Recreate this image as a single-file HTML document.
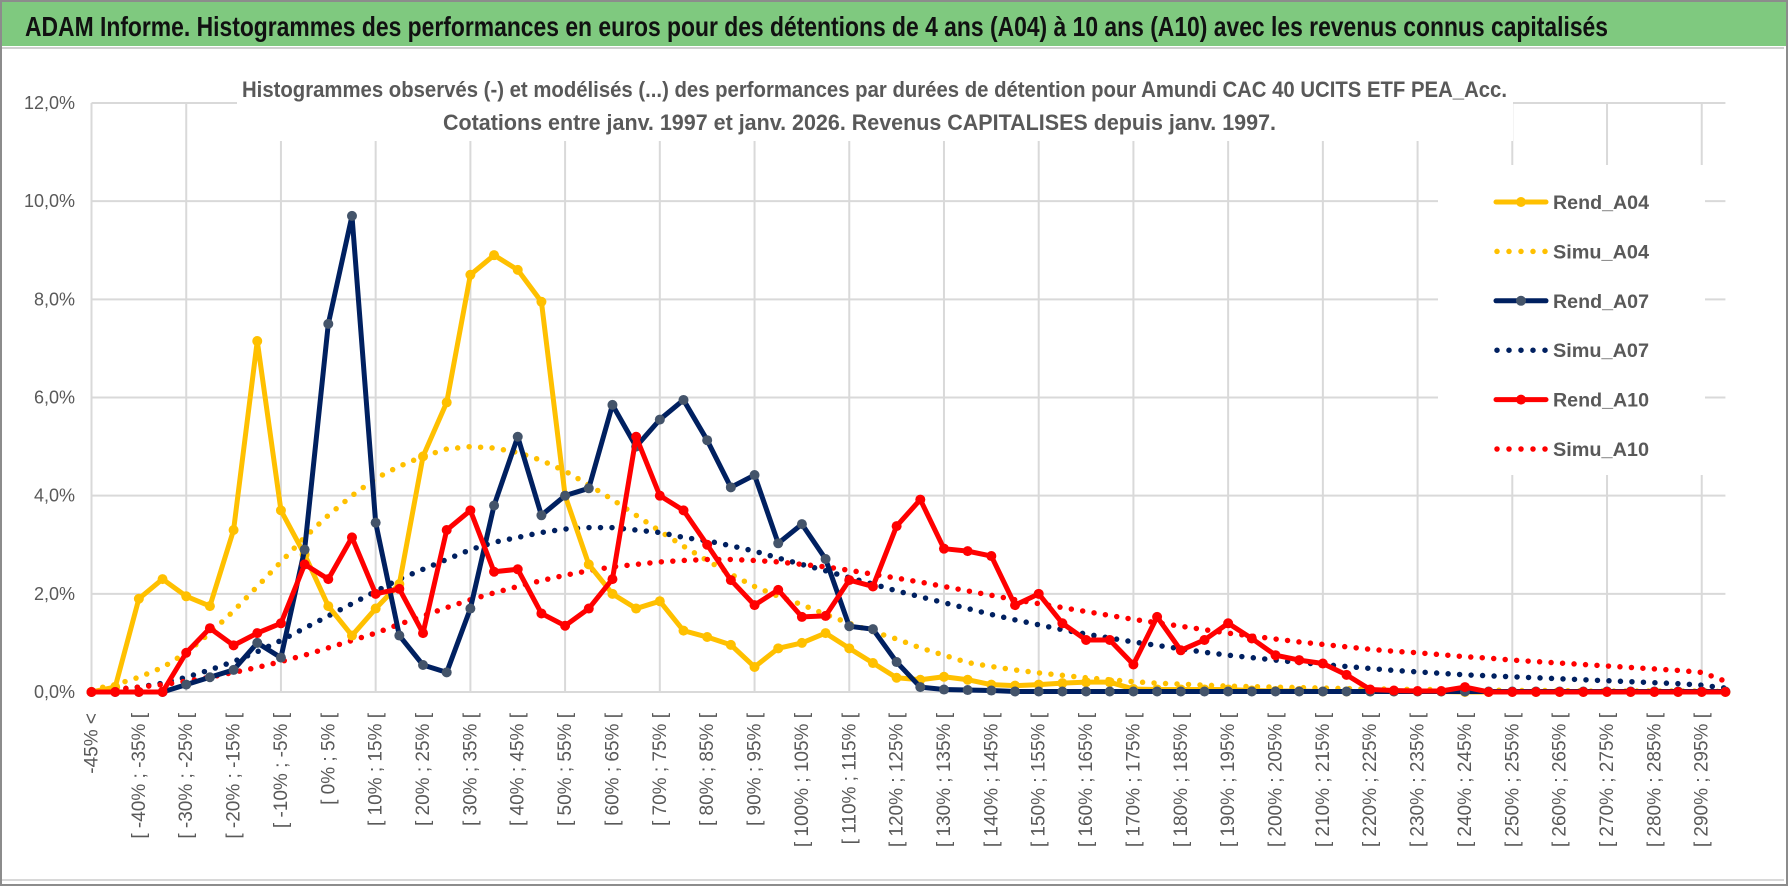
<!DOCTYPE html>
<html><head><meta charset="utf-8"><style>
html,body{margin:0;padding:0;background:#fff}
svg{display:block}
text{font-family:"Liberation Sans",sans-serif}
</style></head><body>
<svg id="chart" width="1790" height="888" viewBox="0 0 1790 888" xmlns="http://www.w3.org/2000/svg">
<rect x="0" y="0" width="1790" height="888" fill="#fff"/>
<rect x="1" y="1" width="1786" height="884" fill="none" stroke="#8c8c8c" stroke-width="2"/>
<rect x="2" y="2" width="1784" height="44" fill="#7fc97f"/>
<line x1="2" y1="48" x2="1784" y2="48" stroke="#d0d0d0" stroke-width="2"/>
<text x="25" y="36" font-size="28" font-weight="bold" fill="#111" textLength="1583" lengthAdjust="spacingAndGlyphs">ADAM Informe. Histogrammes des performances en euros pour des détentions de 4 ans (A04) à 10 ans (A10) avec les revenus connus capitalisés</text>
<line x1="2" y1="880" x2="1784" y2="880" stroke="#d8d8d8" stroke-width="2"/>
<g id="grid"></g>
<rect x="237" y="60" width="1276" height="81" fill="#fff"/>
<rect x="1438" y="165" width="267" height="310" fill="#fff"/>
<text x="242" y="97" font-size="22" font-weight="bold" fill="#595959" textLength="1265" lengthAdjust="spacingAndGlyphs">Histogrammes observés (-) et modélisés (...) des performances par durées de détention pour Amundi CAC 40 UCITS ETF PEA_Acc.</text>
<text x="443" y="130" font-size="22" font-weight="bold" fill="#595959" textLength="833" lengthAdjust="spacingAndGlyphs">Cotations entre janv. 1997 et janv. 2026. Revenus CAPITALISES depuis janv. 1997.</text>
<g id="yaxis"></g>
<g id="xaxis"></g>
<g id="series"></g>
<g id="legend"></g>
</svg>
<script>
const yTicks = [0, 2, 4, 6, 8, 10, 12];
const yTickLabels = ["0,0%", "2,0%", "4,0%", "6,0%", "8,0%", "10,0%", "12,0%"];
const nCats = 70;
const rendA04 = [0,0.1,1.9,2.3,1.95,1.75,3.3,7.15,3.7,2.8,1.75,1.15,1.7,2.2,4.8,5.9,8.5,8.9,8.6,7.95,4.0,2.6,2.0,1.7,1.85,1.25,1.12,0.96,0.51,0.89,1.0,1.2,0.89,0.59,0.29,0.25,0.31,0.25,0.15,0.13,0.15,0.18,0.2,0.2,0.06,0.05,0.05,0.05,0.05,0.03,0.02,0.02,0.01,0.01,0.01,0.01,0.01,0.01,0,0,0,0,0,0,0,0,0,0,0,0];
const simuA04 = [0.05,0.15,0.3,0.5,0.8,1.2,1.65,2.15,2.65,3.15,3.6,4.0,4.35,4.6,4.8,4.95,5.0,4.97,4.88,4.72,4.5,4.22,3.92,3.6,3.28,2.97,2.68,2.4,2.15,1.95,1.78,1.58,1.4,1.23,1.08,0.9,0.75,0.6,0.52,0.45,0.39,0.34,0.29,0.25,0.21,0.18,0.16,0.14,0.12,0.11,0.1,0.09,0.08,0.07,0.06,0.06,0.05,0.05,0.04,0.04,0.03,0.03,0.03,0.02,0.02,0.02,0.02,0.02,0.02,0.01];
const rendA07 = [0,0,0,0,0.15,0.3,0.45,1.0,0.7,2.9,7.5,9.7,3.45,1.15,0.55,0.4,1.7,3.8,5.2,3.6,4.0,4.15,5.85,5.0,5.55,5.95,5.13,4.17,4.42,3.03,3.42,2.71,1.34,1.28,0.61,0.1,0.05,0.04,0.03,0.01,0.01,0.01,0.01,0.01,0.01,0.01,0.01,0.01,0.01,0.01,0.01,0.01,0.01,0.01,0.01,0.01,0.01,0.01,0.01,0.01,0.01,0.01,0.01,0.01,0.01,0.01,0.01,0.01,0.01,0.01];
const simuA07 = [0.02,0.05,0.1,0.18,0.3,0.45,0.62,0.82,1.05,1.3,1.55,1.8,2.05,2.3,2.5,2.7,2.9,3.05,3.15,3.25,3.32,3.35,3.35,3.3,3.25,3.15,3.08,2.98,2.87,2.73,2.6,2.47,2.33,2.2,2.06,1.94,1.82,1.7,1.58,1.47,1.37,1.27,1.18,1.1,1.02,0.95,0.88,0.81,0.75,0.7,0.65,0.6,0.56,0.52,0.48,0.44,0.41,0.38,0.35,0.33,0.31,0.29,0.27,0.25,0.23,0.21,0.19,0.17,0.14,0.08];
const rendA10 = [0,0,0,0,0.8,1.3,0.95,1.2,1.4,2.6,2.3,3.15,2.0,2.1,1.2,3.3,3.7,2.45,2.5,1.6,1.35,1.7,2.3,5.2,4.0,3.7,3.0,2.28,1.77,2.08,1.53,1.55,2.28,2.15,3.38,3.92,2.92,2.87,2.77,1.77,2.0,1.4,1.06,1.06,0.56,1.53,0.85,1.06,1.4,1.09,0.75,0.65,0.58,0.35,0.05,0.03,0.02,0.02,0.1,0,0,0,0,0,0,0,0,0,0,0];
const simuA10 = [0.02,0.05,0.1,0.15,0.22,0.3,0.4,0.5,0.62,0.75,0.9,1.05,1.2,1.38,1.55,1.72,1.88,2.02,2.15,2.27,2.38,2.47,2.55,2.6,2.65,2.68,2.7,2.7,2.68,2.65,2.6,2.55,2.48,2.4,2.32,2.24,2.15,2.06,1.97,1.88,1.8,1.72,1.64,1.56,1.48,1.41,1.34,1.27,1.2,1.14,1.08,1.02,0.97,0.92,0.87,0.83,0.8,0.76,0.72,0.69,0.65,0.62,0.59,0.56,0.53,0.5,0.47,0.44,0.4,0.22];
const legendNames = ["Rend_A04","Simu_A04","Rend_A07","Simu_A07","Rend_A10","Simu_A10"];

const NS = "http://www.w3.org/2000/svg";
const X0 = 91.5, DX = 23.68, Y0 = 692, Y12 = 103;
function xPos(i){ return X0 + i*DX; }
function yPos(v){ return Y0 - (v/12)*(Y0-Y12); }
function catLabel(i){
  if(i===0) return "-45% <";
  return "[ " + (-50+5*i) + "% ; " + (-45+5*i) + "% [";
}
function mk(tag, attrs, parent){
  const e = document.createElementNS(NS, tag);
  for(const k in attrs) e.setAttribute(k, attrs[k]);
  parent.appendChild(e);
  return e;
}
const grid = document.getElementById('grid');
yTicks.forEach(t=>{
  const l = mk('line',{x1:X0,x2:xPos(nCats-1),y1:yPos(t),y2:yPos(t),stroke:'#d9d9d9','stroke-width':2},grid);
  
  
});
for(let i=0;i<nCats;i+=4){
  const l = mk('line',{x1:xPos(i),x2:xPos(i),y1:yPos(12),y2:yPos(0),stroke:'#d9d9d9','stroke-width':2},grid);
  
  
}
const yax = document.getElementById('yaxis');
yTicks.forEach((t,k)=>{
  const tx = mk('text',{x:75,y:yPos(t)+6,'text-anchor':'end','font-size':18,fill:'#595959'},yax);
  
  
  tx.textContent = yTickLabels[k];
});
const xax = document.getElementById('xaxis');
for(let i=0;i<nCats;i+=2){
  const x = xPos(i)+6, y = 713;
  const tx = mk('text',{x:x,y:y,'text-anchor':'end','font-size':19,fill:'#595959',transform:'rotate(-90 '+x+' '+y+')'},xax);
  
  
  tx.textContent = catLabel(i);
}
const ser = document.getElementById('series');
function drawDotted(data,color,name){
  const pts = data.map((v,i)=>xPos(i)+','+yPos(v)).join(' ');
  const p = mk('polyline',{points:pts,fill:'none',stroke:color,'stroke-width':5.5,'stroke-linecap':'round','stroke-dasharray':'0 11.5'},ser);
  
  
}
function drawSolid(data,color,mcolor,name){
  const g = mk('g',{},ser);
  
  
  const pts = data.map((v,i)=>xPos(i)+','+yPos(v)).join(' ');
  const p = mk('polyline',{points:pts,fill:'none',stroke:color,'stroke-width':5,'stroke-linejoin':'round'},g);
  
  
  data.forEach((v,i)=>{
    const c = mk('circle',{cx:xPos(i),cy:yPos(v),r:5,fill:mcolor},g);
    
    
  });
}
drawDotted(simuA04,'#ffc000','simu-a04-line');
drawDotted(simuA07,'#002060','simu-a07-line');
drawDotted(simuA10,'#ff0000','simu-a10-line');
drawSolid(rendA04,'#ffc000','#ffc000','rend-a04');
drawSolid(rendA07,'#002060','#44546a','rend-a07');
drawSolid(rendA10,'#ff0000','#ff0000','rend-a10');

const leg = document.getElementById('legend');
const legColors = ['#ffc000','#ffc000','#002060','#002060','#ff0000','#ff0000'];
const legMarker = ['#ffc000',null,'#44546a',null,'#ff0000',null];
legendNames.forEach((n,k)=>{
  const y = 202 + k*49.4;
  const g = mk('g',{},leg);
  
  
  if(k%2===0){
    mk('line',{x1:1496,x2:1546,y1:y,y2:y,stroke:legColors[k],'stroke-width':5,'stroke-linecap':'round'},g);
    mk('circle',{cx:1521,cy:y,r:5,fill:legMarker[k]},g);
  } else {
    mk('line',{x1:1497,x2:1546,y1:y,y2:y,stroke:legColors[k],'stroke-width':5.5,'stroke-linecap':'round','stroke-dasharray':'0 12'},g);
  }
  const t = mk('text',{x:1553,y:y+7,'font-size':19,'font-weight':'bold',fill:'#595959',textLength:96,lengthAdjust:'spacingAndGlyphs'},g);
  t.textContent = n;
});
</script>
</body></html>
